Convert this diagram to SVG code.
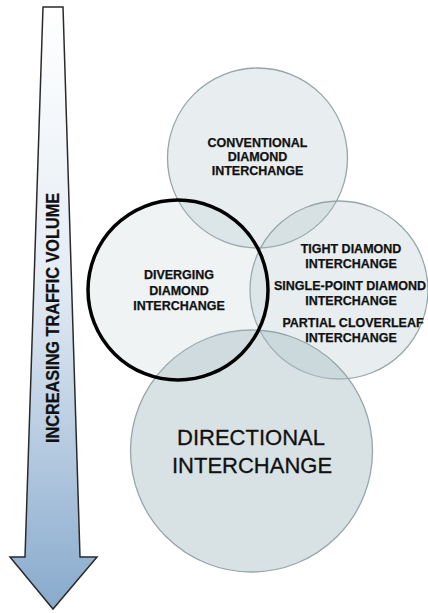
<svg xmlns="http://www.w3.org/2000/svg" width="428" height="613" viewBox="0 0 428 613">
<defs>
<linearGradient id="arrowGrad" x1="0" y1="0" x2="0" y2="1">
<stop offset="0" stop-color="#ffffff"/>
<stop offset="0.45" stop-color="#e4ecf4"/>
<stop offset="1" stop-color="#88aacd"/>
</linearGradient>
</defs>
<style>
.c{fill:#aec2c6;fill-opacity:0.28;stroke:#96a6a8;stroke-width:1.3}
.big{fill:#aec2c6;fill-opacity:0.48;stroke:#96a6a8;stroke-width:1.3}
.hl{fill:#aec2c6;fill-opacity:0.2;stroke:#000;stroke-width:3.5}
.t{font-family:"Liberation Sans",Arial,sans-serif;font-weight:bold;font-size:12.5px;fill:#111;stroke:#111;stroke-width:0.25;text-anchor:middle}
.tb{font-family:"Liberation Sans",Arial,sans-serif;font-size:22px;fill:#111;stroke:#111;stroke-width:0.3;text-anchor:middle}
</style>
<rect width="428" height="613" fill="#ffffff"/>
<g id="volume-arrow">
<polygon points="43,7 63,7 80,557 97,557 53,609 10,557 25,557" fill="url(#arrowGrad)" stroke="#2a2a2a" stroke-width="1.5" stroke-linejoin="miter"/>
<text transform="translate(59,318) rotate(-90)" class="t" style="font-size:18px" textLength="250" lengthAdjust="spacingAndGlyphs">INCREASING TRAFFIC VOLUME</text>
</g>
<g id="conventional-diamond">
<circle class="c" cx="257.5" cy="158" r="90"/>
<text class="t" x="257.5" y="147">CONVENTIONAL</text>
<text class="t" x="257.5" y="161">DIAMOND</text>
<text class="t" x="257.5" y="175">INTERCHANGE</text>
</g>
<g id="tight-spui-parclo">
<circle class="c" cx="339" cy="290" r="89"/>
<text class="t" x="351" y="253">TIGHT DIAMOND</text>
<text class="t" x="351" y="268">INTERCHANGE</text>
<text class="t" x="350" y="290">SINGLE-POINT DIAMOND</text>
<text class="t" x="351" y="305">INTERCHANGE</text>
<text class="t" x="353" y="327">PARTIAL CLOVERLEAF</text>
<text class="t" x="351" y="342">INTERCHANGE</text>
</g>
<g id="directional">
<circle class="big" cx="251.5" cy="451" r="121"/>
<text class="tb" x="251" y="445">DIRECTIONAL</text>
<text class="tb" x="252" y="473">INTERCHANGE</text>
</g>
<g id="diverging-diamond">
<circle class="hl" cx="178" cy="290" r="90"/>
<text class="t" x="179" y="279">DIVERGING</text>
<text class="t" x="179" y="294.5">DIAMOND</text>
<text class="t" x="179" y="310">INTERCHANGE</text>
</g>
</svg>
